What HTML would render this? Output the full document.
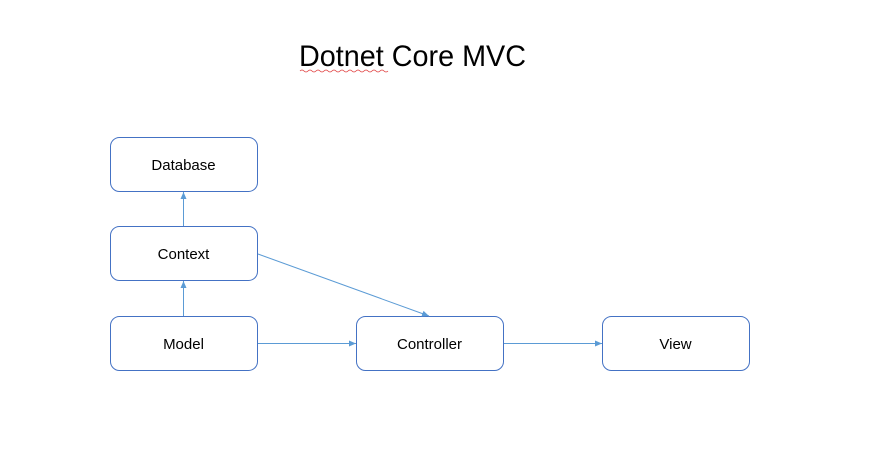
<!DOCTYPE html>
<html><head><style>html,body{margin:0;padding:0;background:#fff;}</style></head>
<body>
<svg width="889" height="463" viewBox="0 0 889 463" xmlns="http://www.w3.org/2000/svg" font-family="Liberation Sans, sans-serif">
<defs>
<marker id="a" markerWidth="8" markerHeight="8" refX="7" refY="4" orient="auto" markerUnits="userSpaceOnUse">
<path d="M0,1 L7,4 L0,7 z" fill="#5b9bd5"/>
</marker>
</defs>
<text x="299" y="66" font-size="30" textLength="227" lengthAdjust="spacingAndGlyphs" fill="#000">Dotnet Core MVC</text>
<path d="M300,71 q2,-2 4,0 t4,0 t4,0 t4,0 t4,0 t4,0 t4,0 t4,0 t4,0 t4,0 t4,0 t4,0 t4,0 t4,0 t4,0 t4,0 t4,0 t4,0 t4,0 t4,0 t4,0 t4,0" stroke="#e04040" stroke-width="0.8" fill="none"/>
<g fill="#fff" stroke="#4472c4" stroke-width="1">
<rect x="110.5" y="137.5" width="147" height="54" rx="9"/>
<rect x="110.5" y="226.5" width="147" height="54" rx="9"/>
<rect x="110.5" y="316.5" width="147" height="54" rx="9"/>
<rect x="356.5" y="316.5" width="147" height="54" rx="9"/>
<rect x="602.5" y="316.5" width="147" height="54" rx="9"/>
</g>
<g stroke="#5b9bd5" stroke-width="1" fill="none" marker-end="url(#a)">
<line x1="183.5" y1="226" x2="183.5" y2="192"/>
<line x1="183.5" y1="316" x2="183.5" y2="281"/>
<line x1="258" y1="343.5" x2="356" y2="343.5"/>
<line x1="504" y1="343.5" x2="602" y2="343.5"/>
<line x1="258" y1="254" x2="429" y2="316"/>
</g>
<g font-size="15" text-anchor="middle" fill="#000">
<text x="183.5" y="170">Database</text>
<text x="183.5" y="259">Context</text>
<text x="183.5" y="349">Model</text>
<text x="429.5" y="349">Controller</text>
<text x="675.5" y="349">View</text>
</g>
</svg>
</body></html>
